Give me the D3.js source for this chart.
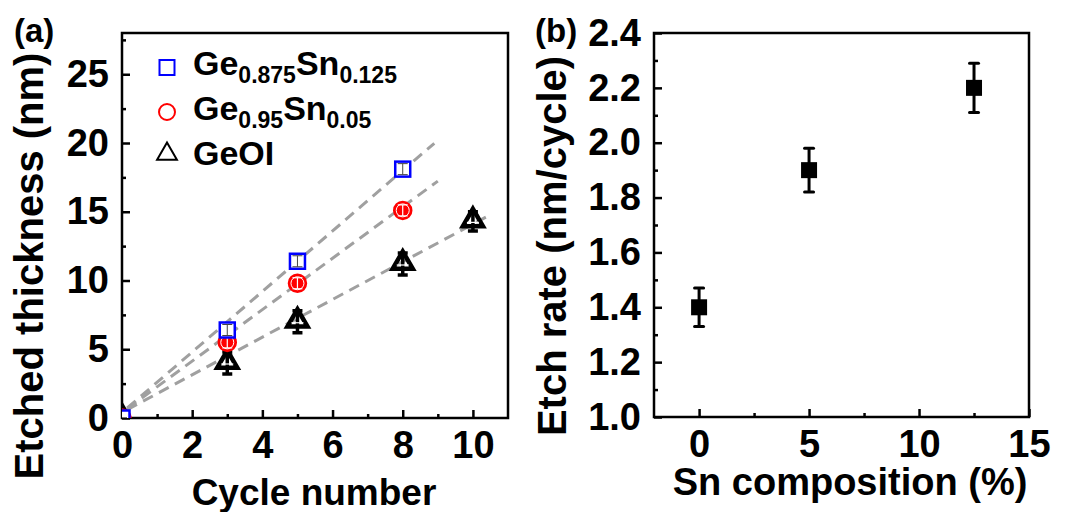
<!DOCTYPE html>
<html>
<head>
<meta charset="utf-8">
<script src="https://cdn.jsdelivr.net/npm/d3@7"></script>
<style>
  body { margin: 0; background: #fff; }
  text { font-family: Arial, "Liberation Sans", sans-serif; font-weight: bold; fill: #000; }
</style>
</head>
<body>
<svg id="fig" width="1067" height="512"></svg>
<script>
//=========================
//  Data, panel (a)
//=========================
var cycleX = [0, 3, 5, 8];               //cycles measured for the GeSn samples
var cycleGeOI = [0, 3, 5, 8, 10];        //cycles measured for GeOI
var thickSn125 = [0, 6.4, 11.4, 18.1];   //Ge0.875Sn0.125
var thickSn05 = [0, 5.5, 9.8, 15.1];     //Ge0.95Sn0.05
var thickGeOI = [0, 4.0, 7.0, 11.2, 14.3];
var errSn125 = [0, 0.4, 0.4, 0.4];
var errSn05 = [0, 0.4, 0.4, 0.4];
var errGeOI = [0, 0.8, 0.8, 0.8, 0.7];

//linear fits (slope, intercept, x range)
var fitSlope = [2.2, 1.87, 1.37];
var fitIntercept = [0.4, 0.4, 0.4];
var fitStart = [0.15, 0.15, 0.15];
var fitEnd = [8.9, 9.0, 10.4];

var legendNames = [
  ["Ge", "0.875", "Sn", "0.125"],
  ["Ge", "0.95", "Sn", "0.05"],
  ["GeOI"]
];

//=========================
//  Data, panel (b)
//=========================
var snComposition = [0, 5, 12.5];
var etchRate = [1.4, 1.9, 2.2];
var etchRateErr = [0.07, 0.08, 0.09];

var svg = d3.select("#fig");

//-------------------------
// helper: inward ticks
//-------------------------
function drawAxes(g, x, y, xMajor, xMinor, yMajor, yMinor, xFmt, yFmt, w, h) {
  g.append("g").attr("transform", "translate(0," + h + ")")
    .call(d3.axisBottom(x).tickValues(xMinor).tickSize(-4).tickSizeOuter(0).tickFormat(""));
  g.append("g").attr("transform", "translate(0," + h + ")")
    .call(d3.axisBottom(x).tickValues(xMajor).tickSize(-8).tickSizeOuter(0).tickPadding(13).tickFormat(xFmt));
  g.append("g")
    .call(d3.axisLeft(y).tickValues(yMinor).tickSize(-4).tickSizeOuter(0).tickFormat(""));
  g.append("g")
    .call(d3.axisLeft(y).tickValues(yMajor).tickSize(-8).tickSizeOuter(0).tickPadding(13).tickFormat(yFmt));

  g.selectAll(".domain").remove();
  g.selectAll(".tick line").attr("stroke", "#000").attr("stroke-width", 2.5);
  g.selectAll(".tick text").style("font-size", "38px").style("font-family", "Arial, 'Liberation Sans', sans-serif");

  //frame
  g.append("rect").attr("width", w).attr("height", h)
    .attr("fill", "none").attr("stroke", "#000").attr("stroke-width", 2.5);
}

//=========================
//      Panel (a)
//=========================
var aLeft = 122, aTop = 33, aW = 386, aH = 385;
var ga = svg.append("g").attr("transform", "translate(" + aLeft + "," + aTop + ")");

var xa = d3.scaleLinear().domain([0, 11]).range([0, aW]);
var ya = d3.scaleLinear().domain([0, 28]).range([aH, 0]);

drawAxes(ga, xa, ya,
  [0, 2, 4, 6, 8, 10], [1, 3, 5, 7, 9],
  [0, 5, 10, 15, 20, 25], [2.5, 7.5, 12.5, 17.5, 22.5, 27.5],
  d3.format("d"), d3.format("d"), aW, aH);

ga.append("clipPath").attr("id", "clipA")
  .append("rect").attr("width", aW).attr("height", aH);

var plotA = ga.append("g").attr("clip-path", "url(#clipA)");

//fit lines
fitSlope.forEach(function(s, i) {
  var x0 = fitStart[i], x1 = fitEnd[i];
  plotA.append("line")
    .attr("x1", xa(x0)).attr("y1", ya(fitIntercept[i] + s * x0))
    .attr("x2", xa(x1)).attr("y2", ya(fitIntercept[i] + s * x1))
    .attr("stroke", "#a0a0a0").attr("stroke-width", 3)
    .attr("stroke-dasharray", "11,7");
});

//error bar drawing
function errBar(g, cx, cyTop, cyBot, color, width) {
  g.append("line").attr("x1", cx).attr("x2", cx).attr("y1", cyTop).attr("y2", cyBot)
    .attr("stroke", color).attr("stroke-width", width);
  [cyTop, cyBot].forEach(function(yy) {
    g.append("line").attr("x1", cx - 5).attr("x2", cx + 5).attr("y1", yy).attr("y2", yy)
      .attr("stroke", color).attr("stroke-width", width);
  });
}

var triPath = d3.symbol().type(d3.symbolTriangle).size(175);

//GeOI triangles
cycleGeOI.forEach(function(c, i) {
  var cx = xa(c), cy = ya(thickGeOI[i]);
  errBar(plotA, cx, ya(thickGeOI[i] + errGeOI[i]), ya(thickGeOI[i] - errGeOI[i]), "#000", 3.5);
  plotA.append("path").attr("d", triPath)
    .attr("transform", "translate(" + cx + "," + (cy - 1) + ")")
    .attr("fill", "none").attr("stroke", "#000").attr("stroke-width", 4.5);
  plotA.append("line").attr("x1", cx - 6).attr("x2", cx + 6).attr("y1", cy + 1).attr("y2", cy + 1)
    .attr("stroke", "#fff").attr("stroke-width", 1.2);
});

//Ge0.95Sn0.05 circles
cycleX.forEach(function(c, i) {
  var cx = xa(c), cy = ya(thickSn05[i]);
  plotA.append("circle").attr("cx", cx).attr("cy", cy).attr("r", 8.5)
    .attr("fill", "#ff0000").attr("stroke", "#ff0000").attr("stroke-width", 2.5);
  plotA.append("circle").attr("cx", cx).attr("cy", cy).attr("r", 6.5)
    .attr("fill", "none").attr("stroke", "#fff").attr("stroke-width", 1);
  errBar(plotA, cx, ya(thickSn05[i] + errSn05[i]), ya(thickSn05[i] - errSn05[i]), "#fff", 1.2);
});

//Ge0.875Sn0.125 squares
cycleX.forEach(function(c, i) {
  var cx = xa(c), cy = ya(thickSn125[i]);
  plotA.append("rect").attr("x", cx - 7.5).attr("y", cy - 7.5).attr("width", 15).attr("height", 15)
    .attr("fill", "#fff").attr("stroke", "#0000ff").attr("stroke-width", 2.5);
  errBar(plotA, cx, ya(thickSn125[i] + errSn125[i]), ya(thickSn125[i] - errSn125[i]), "#444", 1);
});

//legend
var legendMarkX = 167 - aLeft, legendTextX = 193 - aLeft;
var legendRowY = [75 - aTop, 120 - aTop, 165 - aTop];
var legend = ga.append("g");

legend.append("rect").attr("x", legendMarkX - 7.5).attr("y", legendRowY[0] - 15).attr("width", 15).attr("height", 15)
  .attr("fill", "none").attr("stroke", "#0000ff").attr("stroke-width", 2);
legend.append("circle").attr("cx", legendMarkX).attr("cy", legendRowY[1] - 8).attr("r", 8)
  .attr("fill", "none").attr("stroke", "#ff0000").attr("stroke-width", 2);
legend.append("path").attr("d", d3.symbol().type(d3.symbolTriangle).size(170))
  .attr("transform", "translate(" + legendMarkX + "," + (legendRowY[2] - 11) + ")")
  .attr("fill", "none").attr("stroke", "#000").attr("stroke-width", 2);

legendNames.forEach(function(parts, i) {
  var t = legend.append("text").attr("x", legendTextX).attr("y", legendRowY[i])
    .style("font-size", "34px");
  parts.forEach(function(p, j) {
    if (j % 2 == 0) {
      t.append("tspan").text(p).style("font-size", "34px").attr("dy", j == 0 ? 0 : "-8");
    } else {
      t.append("tspan").text(p).style("font-size", "23px").attr("dy", "8");
    }
  });
});

//labels
svg.append("text").attr("x", 14).attr("y", 42).style("font-size", "33px").text("(a)");
svg.append("text")
  .attr("transform", "translate(43,266) rotate(-90)")
  .attr("text-anchor", "middle").style("font-size", "40px")
  .text("Etched thickness (nm)");
svg.append("text").attr("x", 314).attr("y", 505)
  .attr("text-anchor", "middle").style("font-size", "37px")
  .text("Cycle number");

//=========================
//      Panel (b)
//=========================
var bLeft = 654, bTop = 33, bW = 375, bH = 384;
var gb = svg.append("g").attr("transform", "translate(" + bLeft + "," + bTop + ")");

var xb = d3.scaleLinear().domain([-2.05, 15]).range([0, bW]);
var yb = d3.scaleLinear().domain([1.0, 2.4]).range([bH, 0]);

drawAxes(gb, xb, yb,
  [0, 5, 10, 15], [2.5, 7.5, 12.5],
  [1.0, 1.2, 1.4, 1.6, 1.8, 2.0, 2.2, 2.4], [1.1, 1.3, 1.5, 1.7, 1.9, 2.1, 2.3],
  d3.format("d"), d3.format(".1f"), bW, bH);

snComposition.forEach(function(s, i) {
  var cx = xb(s), cy = yb(etchRate[i]);
  var top = yb(etchRate[i] + etchRateErr[i]), bot = yb(etchRate[i] - etchRateErr[i]);
  gb.append("line").attr("x1", cx).attr("x2", cx).attr("y1", top).attr("y2", bot)
    .attr("stroke", "#000").attr("stroke-width", 3);
  [top, bot].forEach(function(yy) {
    gb.append("line").attr("x1", cx - 4.5).attr("x2", cx + 4.5).attr("y1", yy).attr("y2", yy)
      .attr("stroke", "#000").attr("stroke-width", 3).attr("stroke-linecap", "round");
  });
  gb.append("rect").attr("x", cx - 8).attr("y", cy - 8).attr("width", 16).attr("height", 16)
    .attr("fill", "#000");
});

svg.append("text").attr("x", 535).attr("y", 42).style("font-size", "33px").text("(b)");
svg.append("text")
  .attr("transform", "translate(566,246) rotate(-90)")
  .attr("text-anchor", "middle").style("font-size", "40px")
  .text("Etch rate (nm/cycle)");
svg.append("text").attr("x", 850).attr("y", 495)
  .attr("text-anchor", "middle").style("font-size", "38px")
  .text("Sn composition (%)");
</script>
</body>
</html>
